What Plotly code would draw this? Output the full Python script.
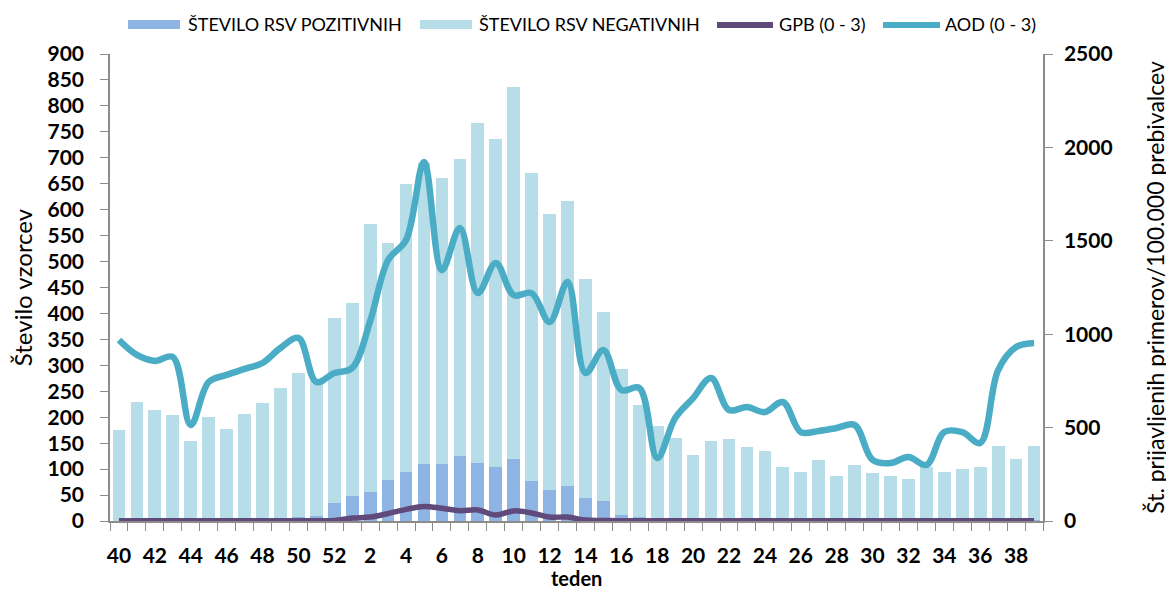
import plotly.graph_objects as go

weeks = [str(w) for w in list(range(40, 53)) + list(range(1, 40))]

rsv_positive = [0, 0, 0, 0, 0, 0, 0, 0, 0, 0, 7, 10, 35,
                48, 56, 79, 94, 110, 110, 125, 112, 104, 119, 77, 60, 67, 44, 38, 11, 7,
                2, 1, 1, 1, 1, 1, 1, 1, 1, 1, 1, 1, 1, 1, 1, 1, 1, 1, 1, 1, 1, 1]
rsv_negative = [175, 229, 213, 204, 155, 201, 178, 206, 227, 257, 278, 260, 357,
                372, 516, 457, 555, 580, 551, 573, 655, 632, 717, 593, 532, 550, 422, 365, 282, 217,
                181, 159, 126, 153, 157, 142, 134, 103, 93, 116, 86, 106, 91, 86, 80, 103, 93, 99, 103, 144, 118, 144]

gpb = [1, 1, 1, 1, 1, 1, 1, 1, 1, 1, 2, 2, 3,
       16, 21, 40, 62, 78, 68, 55, 59, 32, 54, 43, 21, 21, 5, 3, 1, 1,
       1, 1, 1, 1, 1, 1, 1, 1, 1, 1, 1, 1, 1, 1, 1, 1, 1, 1, 1, 1, 1, 1]
aod = [969, 889, 857, 878, 514, 744, 782, 814, 846, 926, 980, 744, 792,
       819, 1070, 1397, 1504, 1922, 1343, 1568, 1220, 1381, 1209, 1220, 1065, 1280, 792, 915, 701, 712,
       337, 551, 658, 765, 594, 610, 583, 637, 476, 482, 498, 514, 327, 310, 343, 300, 476, 476, 418, 808, 931, 953]

tick_text = [w if i % 2 == 0 else "" for i, w in enumerate(weeks)]

names = ["ŠTEVILO RSV POZITIVNIH", "ŠTEVILO RSV NEGATIVNIH", "GPB (0 - 3)", "AOD (0 - 3)"]
colors = ["#8EB4E3", "#B7DEE8", "#604A7B", "#4BACC6"]
x_title = "teden"

FONT = "Lato, 'Open Sans', sans-serif"

# page offset (default body margin of the html page)
OFF = 8
# plot area in page pixels
PX0, PX1, PY0, PY1 = 110, 1043, 54, 521
W, H = 1174 - OFF, 592 - OFF
L, T = PX0 - OFF, PY0 - OFF
R = W - (PX1 - OFF)
B = H - (PY1 - OFF)
PW, PH = PX1 - PX0, PY1 - PY0


def px_x(px):
    return (px - PX0) / PW


def px_y(py):
    return (PY1 - py) / PH


fig = go.Figure()
fig.add_trace(go.Bar(x=weeks, y=rsv_positive, name=names[0],
                     marker=dict(color=colors[0], line=dict(width=0))))
fig.add_trace(go.Bar(x=weeks, y=rsv_negative, name=names[1],
                     marker=dict(color=colors[1], line=dict(width=0))))
fig.add_trace(go.Scatter(x=weeks, y=gpb, name=names[2], yaxis="y2", mode="lines",
                         line=dict(color=colors[2], width=5.5, shape="spline", smoothing=1)))
fig.add_trace(go.Scatter(x=weeks, y=aod, name=names[3], yaxis="y2", mode="lines",
                         line=dict(color=colors[3], width=6.5, shape="spline", smoothing=1)))

# manual legend (wide swatches like the original)
legend_items = [
    ("rect", 128, 180, 186),
    ("rect", 420, 472, 477),
    ("line", 717, 773, 777),
    ("line", 883, 940, 943),
]
shapes = []
annotations = []
for (kind, x0, x1, tx), name, col in zip(legend_items, names, colors):
    if kind == "rect":
        shapes.append(dict(type="rect", xref="paper", yref="paper",
                           x0=px_x(x0), x1=px_x(x1), y0=px_y(29), y1=px_y(20),
                           fillcolor=col, line=dict(width=0)))
    else:
        shapes.append(dict(type="line", xref="paper", yref="paper",
                           x0=px_x(x0), x1=px_x(x1), y0=px_y(25), y1=px_y(25),
                           line=dict(color=col, width=6)))
    annotations.append(dict(text=name, xref="paper", yref="paper", x=px_x(tx), y=px_y(24),
                            xanchor="left", yanchor="middle", showarrow=False,
                            font=dict(family=FONT, size=18, color="black")))

# x-axis title
annotations.append(dict(text=x_title, xref="paper", yref="paper", x=0.5, y=px_y(578),
                        xanchor="center", yanchor="middle", showarrow=False,
                        font=dict(family=FONT, size=20, color="black", weight="bold")))

fig.update_layout(
    width=W, height=H,
    margin=dict(l=L, r=R, t=T, b=B, autoexpand=False),
    paper_bgcolor="white", plot_bgcolor="white",
    barmode="stack", bargap=0.29,
    font=dict(family=FONT, color="black"),
    showlegend=False,
    shapes=shapes, annotations=annotations,
    xaxis=dict(
        type="category", tickmode="array", tickvals=weeks, ticktext=tick_text, tickangle=0,
        tickson="boundaries", ticks="outside", ticklen=8, tickcolor="#8c8c8c",
        ticklabelstandoff=15,
        showline=True, linecolor="#8c8c8c", linewidth=1.5, showgrid=False,
        tickfont=dict(family=FONT, size=21, color="black", weight="bold"),
    ),
    yaxis=dict(
        range=[0, 900], dtick=50, showgrid=False, zeroline=False,
        showline=True, linecolor="#8c8c8c", linewidth=1.5, ticks="outside", ticklen=8, tickcolor="#8c8c8c",
        ticklabelstandoff=12,
        tickfont=dict(family=FONT, size=21, color="black", weight="bold"),
        title=dict(text="Število vzorcev", font=dict(family=FONT, size=24, color="black"), standoff=35),
    ),
    yaxis2=dict(
        overlaying="y", side="right", range=[0, 2500], dtick=500, showgrid=False, zeroline=False,
        showline=True, linecolor="#8c8c8c", linewidth=1.5, ticks="outside", ticklen=8, tickcolor="#8c8c8c",
        ticklabelstandoff=7,
        tickfont=dict(family=FONT, size=21, color="black", weight="bold"),
        title=dict(text="Št. prijavljenih primerov/100.000 prebivalcev",
                   font=dict(family=FONT, size=23, color="black"), standoff=36),
    ),
)

fig.write_html("out.html")
